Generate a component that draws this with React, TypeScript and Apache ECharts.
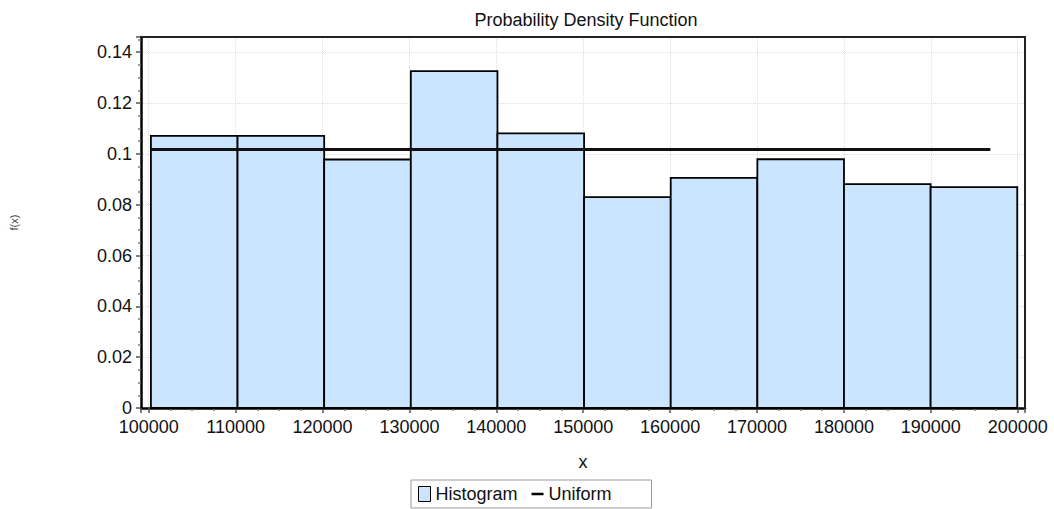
import React, { useEffect, useRef } from 'react';
import * as echarts from 'echarts';

const binStarts = [100250, 110220, 120190, 130160, 140130, 150100, 160070, 170040, 180010, 189980];
const binEnds = [110220, 120190, 130160, 140130, 150100, 160070, 170040, 180010, 189980, 199950];
const densities = [0.1071, 0.1071, 0.0978, 0.1326, 0.1081, 0.083, 0.0906, 0.0979, 0.0881, 0.0869];
const uniformX = [100250, 196850];
const uniformY = [0.1017, 0.1017];

const FONT = '"Liberation Sans", Arial, sans-serif';
const X_MIN = 99110;
const X_MAX = 200840;
const Y_MAX = 0.146;

const LINE_ICON = 'path://M0,0 L14,0 L14,0.01 Z M0,6 L14,6 L14,9 L0,9 Z M0,15 L14,15 L14,15.01 Z';

export default function App() {
  const ref = useRef<HTMLDivElement>(null);
  useEffect(() => {
    if (!ref.current) return;
    const chart = echarts.init(ref.current, null, { renderer: 'svg' });
    const histData = binStarts.map((s, i) => [s, binEnds[i], densities[i]]);
    const uniData = uniformX.map((x, i) => [x, uniformY[i]]);
    chart.setOption({
      animation: false,
      textStyle: { fontFamily: FONT },
      title: {
        text: 'Probability Density Function',
        left: 581,
        textAlign: 'center',
        top: 6,
        textStyle: { fontFamily: FONT, fontSize: 18, fontWeight: 'normal', color: '#111' },
      },
      grid: {
        left: 137,
        right: 29,
        top: 37,
        bottom: 101,
        show: false,
      },
      legend: {
        left: 411,
        bottom: 1,
        padding: [5, 40, 5, 7],
        itemGap: 14,
        itemWidth: 12,
        itemHeight: 15,
        borderColor: '#999',
        borderWidth: 1,
        borderRadius: 0,
        backgroundColor: '#fff',
        textStyle: { fontFamily: FONT, fontSize: 18, color: '#111' },
        data: [
          { name: 'Histogram', icon: 'rect', itemStyle: { color: '#cce5ff', borderColor: '#000', borderWidth: 1 } },
          { name: 'Uniform', icon: LINE_ICON, itemStyle: { color: '#000', borderWidth: 0 } },
        ],
      },
      xAxis: [
        {
          type: 'value',
          min: X_MIN,
          max: X_MAX,
          splitNumber: 10,
          name: 'x',
          nameLocation: 'middle',
          nameGap: 45,
          nameTextStyle: { fontFamily: FONT, fontSize: 18, color: '#111' },
          axisLine: { show: true, onZero: false, lineStyle: { color: '#000', width: 2.5 } },
          axisTick: { show: true, length: 5, lineStyle: { color: '#555', width: 1.5 } },
          minorTick: { show: true, splitNumber: 4, length: 3, lineStyle: { color: '#777', width: 1.5 } },
          axisLabel: {
            margin: 10,
            fontFamily: FONT,
            fontSize: 18,
            color: '#111',
            showMinLabel: false,
            showMaxLabel: false,
            formatter: (v: number) => (Math.abs(v % 10000) < 1e-6 ? String(v) : ''),
          },
          splitLine: { show: true, lineStyle: { color: '#ddd', type: 'dotted', width: 1 } },
          z: 1,
        },
        {
          type: 'value',
          position: 'top',
          min: X_MIN,
          max: X_MAX,
          axisLine: { show: true, onZero: false, lineStyle: { color: '#222', width: 2 } },
          axisTick: { show: false },
          axisLabel: { show: false },
          splitLine: { show: false },
          z: 5,
        },
      ],
      yAxis: [
        {
          type: 'value',
          min: 0,
          max: Y_MAX,
          splitNumber: 7,
          name: 'f(x)',
          nameLocation: 'middle',
          nameRotate: 90,
          nameGap: 122,
          nameTextStyle: { fontFamily: FONT, fontSize: 11, color: '#444' },
          axisLine: { show: true, lineStyle: { color: '#000', width: 2.5 } },
          axisTick: { show: true, length: 5, lineStyle: { color: '#555', width: 1.5 } },
          minorTick: { show: true, splitNumber: 4, length: 3, lineStyle: { color: '#777', width: 1.5 } },
          axisLabel: {
            margin: 9,
            fontFamily: FONT,
            fontSize: 18,
            color: '#111',
            showMaxLabel: false,
          },
          splitLine: { show: true, lineStyle: { color: '#ddd', type: 'dotted', width: 1 } },
          z: 1,
        },
        {
          type: 'value',
          position: 'right',
          min: 0,
          max: Y_MAX,
          axisLine: { show: true, onZero: false, lineStyle: { color: '#222', width: 2 } },
          axisTick: { show: false },
          axisLabel: { show: false },
          splitLine: { show: false },
          z: 5,
        },
      ],
      series: [
        {
          name: 'Histogram',
          type: 'custom',
          itemStyle: { color: '#cce5ff', borderColor: '#000' },
          encode: { x: [0, 1], y: 2 },
          data: histData,
          z: 2,
          renderItem: (params: any, api: any) => {
            const p0 = api.coord([api.value(0), api.value(2)]);
            const p1 = api.coord([api.value(1), 0]);
            return {
              type: 'rect',
              shape: { x: p0[0], y: p0[1], width: p1[0] - p0[0], height: p1[1] - p0[1] },
              style: { fill: '#cce5ff', stroke: '#000', lineWidth: 1.8 },
            };
          },
        },
        {
          name: 'Uniform',
          type: 'line',
          data: uniData,
          symbol: 'none',
          z: 3,
          lineStyle: { color: '#111', width: 3 },
          itemStyle: { color: '#111' },
        },
      ],
    });
    return () => chart.dispose();
  }, []);
  return (
    <div
      ref={ref}
      style={{ position: 'absolute', left: 0, top: 0, width: 1054, height: 509, background: '#fff' }}
    />
  );
}
